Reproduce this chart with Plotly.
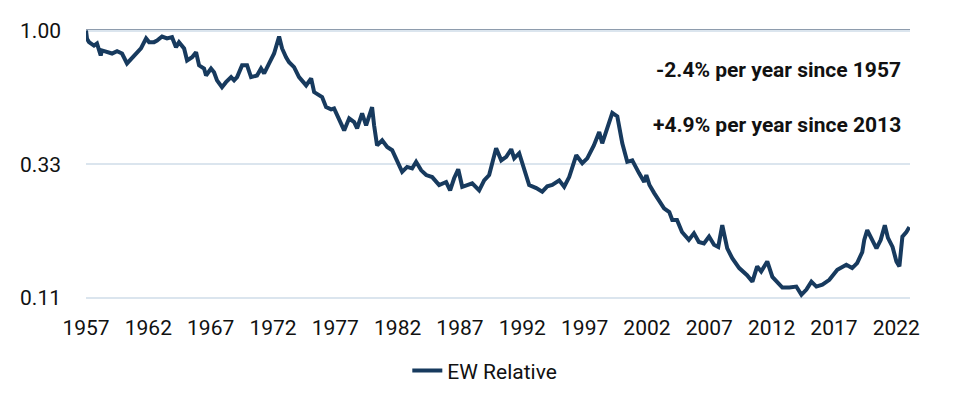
import math
import plotly.graph_objects as go

# Relative performance (EW Relative), decimal years and values
years = [
    1957.00, 1957.08, 1957.24, 1957.64, 1957.88, 1958.18, 1958.28, 1958.69, 1959.09, 1959.49,
    1959.89, 1960.29, 1960.69, 1961.09, 1961.41, 1961.82, 1962.06, 1962.46, 1962.70, 1963.10,
    1963.50, 1963.90, 1964.22, 1964.46, 1964.87, 1965.11, 1965.51, 1965.83, 1966.07, 1966.47,
    1966.63, 1967.03, 1967.27, 1967.51, 1967.91, 1968.23, 1968.64, 1968.88, 1969.12, 1969.52,
    1969.92, 1970.24, 1970.72, 1971.04, 1971.29, 1971.69, 1972.09, 1972.49, 1972.73, 1973.05,
    1973.29, 1973.69, 1974.09, 1974.66, 1975.06, 1975.30, 1975.70, 1975.94, 1976.26, 1976.66,
    1976.90, 1977.31, 1977.71, 1978.11, 1978.51, 1978.75, 1979.15, 1979.47, 1979.95, 1980.11,
    1980.35, 1980.76, 1981.16, 1981.56, 1981.96, 1982.36, 1982.76, 1983.16, 1983.48, 1983.89,
    1984.29, 1984.77, 1985.33, 1985.89, 1986.21, 1986.53, 1986.86, 1987.18, 1987.58, 1987.98,
    1988.54, 1988.94, 1989.34, 1989.74, 1989.90, 1990.31, 1990.71, 1991.11, 1991.35, 1991.75,
    1992.15, 1992.55, 1993.12, 1993.60, 1994.00, 1994.40, 1994.96, 1995.36, 1995.76, 1996.33,
    1996.81, 1997.21, 1997.74, 1998.17, 1998.41, 1998.81, 1999.22, 1999.62, 2000.02, 2000.42,
    2000.82, 2001.36, 2001.78, 2001.95, 2002.20, 2002.58, 2002.99, 2003.37, 2003.79, 2004.03,
    2004.41, 2004.81, 2005.36, 2005.77, 2006.16, 2006.57, 2006.98, 2007.38, 2007.72, 2008.04,
    2008.44, 2008.84, 2009.40, 2010.03, 2010.46, 2010.84, 2011.16, 2011.65, 2012.06, 2012.86,
    2013.42, 2013.98, 2014.39, 2014.79, 2015.19, 2015.59, 2016.07, 2016.63, 2017.27, 2017.99,
    2018.46, 2018.86, 2019.27, 2019.43, 2019.67, 2019.99, 2020.41, 2020.75, 2021.08, 2021.33,
    2021.70, 2022.01, 2022.25, 2022.49, 2022.81, 2023.05,
]
ew_relative = [
    1.000, 0.934, 0.909, 0.884, 0.899, 0.815, 0.849, 0.837, 0.828, 0.844,
    0.828, 0.763, 0.795, 0.828, 0.863, 0.937, 0.909, 0.909, 0.921, 0.952,
    0.937, 0.947, 0.872, 0.909, 0.863, 0.782, 0.803, 0.837, 0.751, 0.732,
    0.691, 0.732, 0.710, 0.664, 0.628, 0.654, 0.682, 0.664, 0.682, 0.751,
    0.751, 0.682, 0.691, 0.732, 0.703, 0.763, 0.828, 0.952, 0.863, 0.803,
    0.771, 0.740, 0.682, 0.637, 0.675, 0.603, 0.587, 0.579, 0.533, 0.523,
    0.527, 0.478, 0.440, 0.486, 0.471, 0.448, 0.506, 0.459, 0.533, 0.459,
    0.389, 0.406, 0.384, 0.374, 0.344, 0.313, 0.326, 0.322, 0.340, 0.317,
    0.305, 0.300, 0.281, 0.288, 0.269, 0.297, 0.320, 0.277, 0.281, 0.285,
    0.269, 0.292, 0.305, 0.365, 0.380, 0.344, 0.354, 0.377, 0.350, 0.365,
    0.317, 0.281, 0.274, 0.266, 0.278, 0.281, 0.292, 0.277, 0.300, 0.359,
    0.336, 0.350, 0.389, 0.434, 0.396, 0.452, 0.508, 0.494, 0.396, 0.340,
    0.344, 0.310, 0.288, 0.305, 0.281, 0.263, 0.248, 0.232, 0.225, 0.211,
    0.211, 0.191, 0.179, 0.189, 0.176, 0.174, 0.184, 0.172, 0.169, 0.202,
    0.167, 0.154, 0.142, 0.134, 0.127, 0.144, 0.138, 0.150, 0.132, 0.121,
    0.121, 0.122, 0.114, 0.119, 0.127, 0.122, 0.124, 0.129, 0.140, 0.146,
    0.142, 0.148, 0.162, 0.179, 0.194, 0.182, 0.167, 0.179, 0.202, 0.182,
    0.169, 0.150, 0.144, 0.184, 0.191, 0.199,
]

x_tick_years = [1957, 1962, 1967, 1972, 1977, 1982, 1987, 1992, 1997, 2002, 2007, 2012, 2017, 2022]
y_tick_vals = [1.0, 1 / 3, 1 / 9]
y_tick_text = ["1.00", "0.33", "0.11"]
annotation_texts = ["-2.4% per year since 1957", "+4.9% per year since 2013"]
annotation_levels = [0.724, 0.459]

NAVY = "#173a5e"
FONT = "Roboto"
TXT = "#111111"

fig = go.Figure()
fig.add_trace(go.Scatter(
    x=years, y=ew_relative, mode="lines", name="EW Relative",
    line=dict(color=NAVY, width=4),
))

# reference line at 1.00
fig.add_shape(type="line", xref="paper", yref="y", x0=0, x1=1, y0=1.0, y1=1.0,
              line=dict(color="#1f3b5c", width=1.8), layer="below")

# page body adds an 8px offset, so the figure is sized to fit the window
fig.update_layout(
    width=954, height=389,
    margin=dict(l=78, r=52, t=19.5, b=98, autoexpand=False),
    paper_bgcolor="white", plot_bgcolor="white",
    font=dict(family=FONT, size=21, color=TXT),
    showlegend=True,
    legend=dict(orientation="h", x=0.484, xanchor="center", y=-0.265, yanchor="middle",
                font=dict(size=21, color=TXT)),
    xaxis=dict(range=[1957, 2023.1], tickvals=x_tick_years,
               ticktext=[str(y) for y in x_tick_years], automargin=False,
               showgrid=False, zeroline=False, showline=False, ticks="",
               ticklabelstandoff=14, tickfont=dict(size=21, color=TXT)),
    yaxis=dict(type="log", range=[-0.958, 0.009], tickvals=y_tick_vals, ticktext=y_tick_text,
               showgrid=True, gridcolor="#dbe5ee", gridwidth=1.5, zeroline=False,
               showline=False, ticks="", ticklabelstandoff=24, automargin=False,
               tickfont=dict(size=21, color=TXT)),
)

for txt, lvl in zip(annotation_texts, annotation_levels):
    fig.add_annotation(
        text="<b>" + txt + "</b>", xref="paper", yref="y",
        x=(903 - 86) / 824, xanchor="right",
        y=math.log10(lvl), yanchor="middle",
        showarrow=False, font=dict(family=FONT, size=21, color=TXT),
    )

fig.write_html("out.html")
